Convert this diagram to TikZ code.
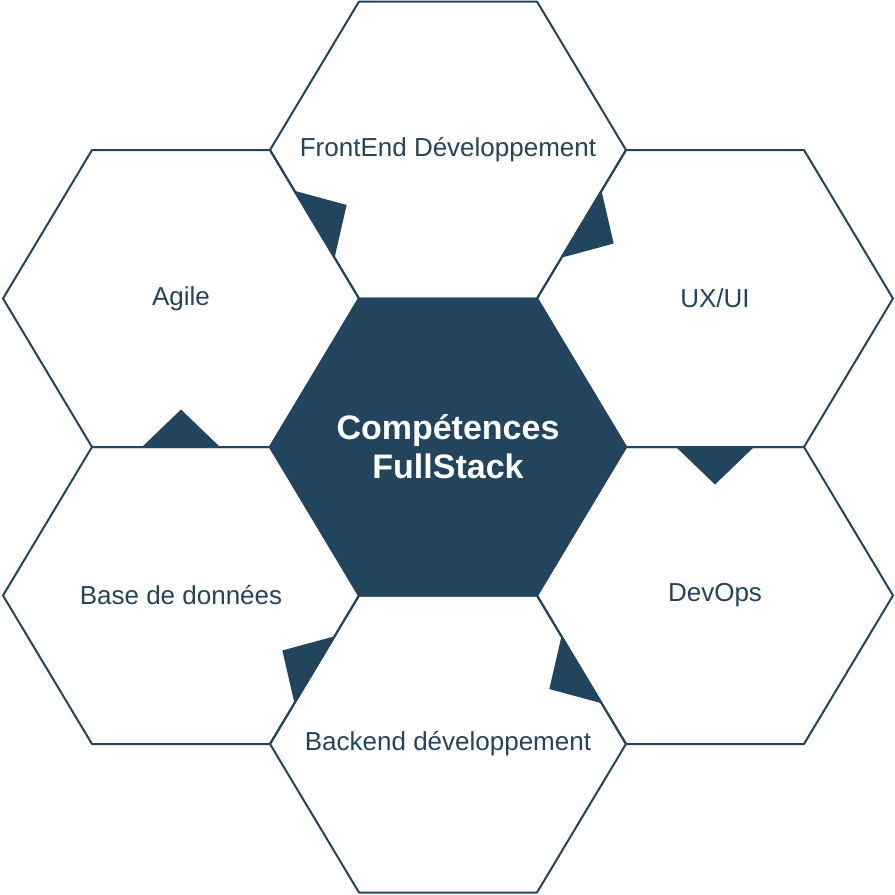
\documentclass[tikz,border=0pt]{standalone}
\usepackage{fontspec}
\setmainfont{Liberation Sans}
\usetikzlibrary{calc}
\definecolor{hexblue}{HTML}{23445D}

\tikzset{
    hexside/.style={draw=hexblue, line width=2pt, line join=round},
    hexlabel/.style={text=hexblue, font=\fontsize{26}{30}\selectfont, align=center},
}

\begin{document}
\begin{tikzpicture}[x=1pt, y=-1pt]
    \useasboundingbox (0,0) rectangle (895,895);

    % outer hexagons
    \foreach \cx/\cy in {448/150, 715/298.5, 715/595.5, 448/744, 181/595.5, 181/298.5}
    {
        \draw[hexside] (\cx-178,\cy) -- (\cx-89,\cy-148.5) -- (\cx+89,\cy-148.5)
            -- (\cx+178,\cy) -- (\cx+89,\cy+148.5) -- (\cx-89,\cy+148.5) -- cycle;
    }

    % centre hexagon
    \coordinate (c1) at (270,447);
    \coordinate (c2) at (359,298.5);
    \coordinate (c3) at (537,298.5);
    \coordinate (c4) at (626,447);
    \coordinate (c5) at (537,595.5);
    \coordinate (c6) at (359,595.5);
    \draw[hexside, fill=hexblue] (c1) -- (c2) -- (c3) -- (c4) -- (c5) -- (c6) -- cycle;

    % spokes between outer hexagons
    \coordinate (s1) at (92,447);
    \coordinate (s2) at (270,150);
    \coordinate (s3) at (626,150);
    \coordinate (s4) at (804,447);
    \coordinate (s5) at (626,744);
    \coordinate (s6) at (270,744);

    % notches
    \foreach \s/\c in {s1/c1, s2/c2, s3/c3, s4/c4, s5/c5, s6/c6}
    {
        \coordinate (mid) at ($(\s)!0.5!(\c)$);
        \fill[hexblue] ($(mid)!39pt!(\s)$) -- ($(mid)!37.5pt!90:(\c)$) -- ($(mid)!39pt!(\c)$) -- cycle;
    }

    % labels
    \node[hexlabel] (front) at (448,150) {FrontEnd Développement};
    \node[hexlabel] (uxui) at (715,298.5) {UX/UI};
    \node[hexlabel] (devops) at (715,595.5) {DevOps};
    \node[hexlabel] (back) at (448,744) {Backend développement};
    \node[hexlabel] (base) at (181,595.5) {Base de données};
    \node[hexlabel] (agile) at (181,298.5) {Agile};
    \node[hexlabel, text=white, font=\fontsize{34}{39}\selectfont\bfseries] (core) at (448,447) {Compétences\\FullStack};
\end{tikzpicture}
\end{document}
